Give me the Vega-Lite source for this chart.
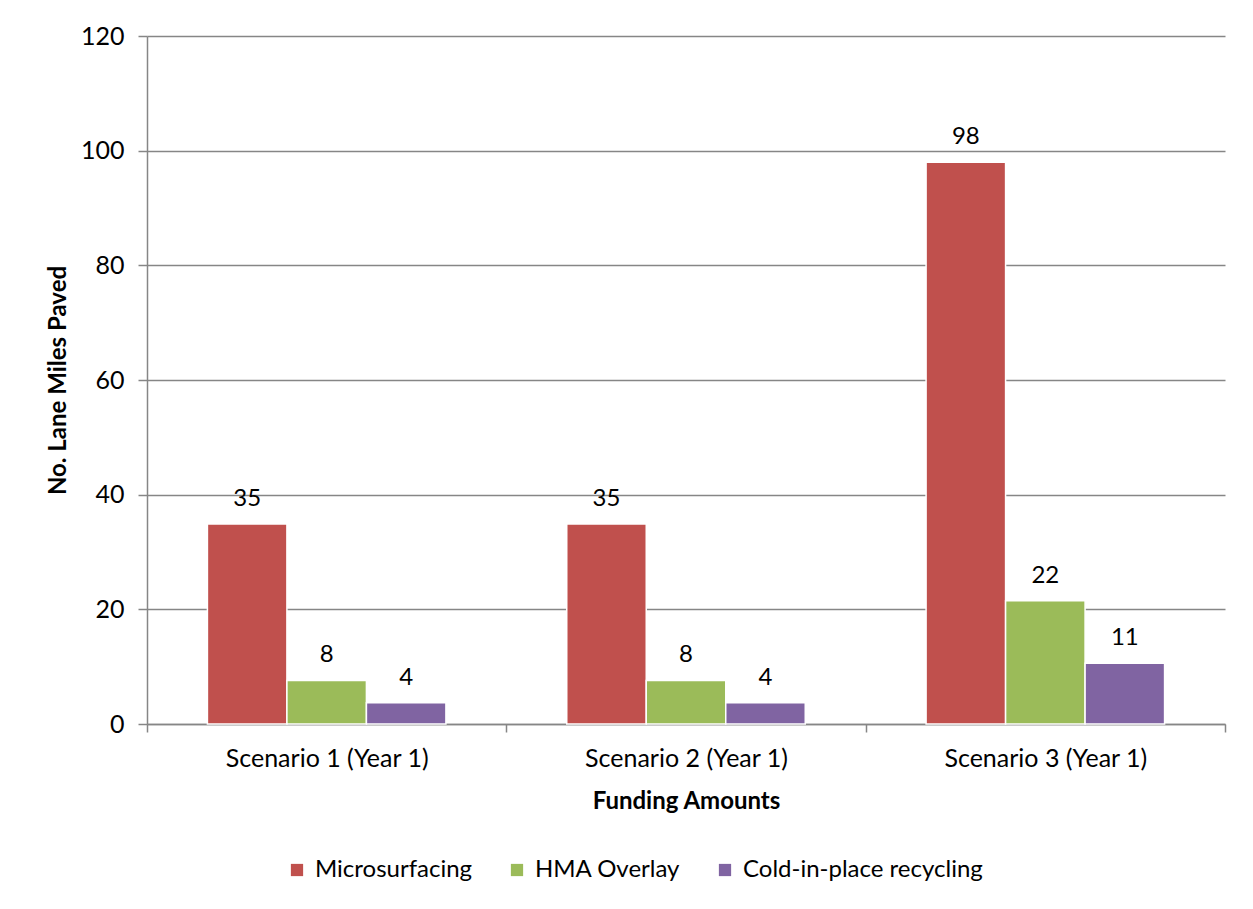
{
  "$schema": "https://vega.github.io/schema/vega-lite/v6.json",
  "autosize": {"type": "none"},
  "width": 1078,
  "height": 688,
  "padding": {"left": 147, "top": 36, "right": 28, "bottom": 185},
  "background": "white",
  "config": {
    "font": "Lato",
    "view": {"stroke": null},
    "axis": {"labelFont": "Lato", "titleFont": "Lato", "labelColor": "#000", "titleColor": "#000"}
  },
  "data": {
    "values": [
      {"scenario": "Scenario 1 (Year 1)", "treatment": "Microsurfacing", "miles": 34.9},
      {"scenario": "Scenario 1 (Year 1)", "treatment": "HMA Overlay", "miles": 7.6},
      {"scenario": "Scenario 1 (Year 1)", "treatment": "Cold-in-place recycling", "miles": 3.7},
      {"scenario": "Scenario 2 (Year 1)", "treatment": "Microsurfacing", "miles": 34.9},
      {"scenario": "Scenario 2 (Year 1)", "treatment": "HMA Overlay", "miles": 7.6},
      {"scenario": "Scenario 2 (Year 1)", "treatment": "Cold-in-place recycling", "miles": 3.7},
      {"scenario": "Scenario 3 (Year 1)", "treatment": "Microsurfacing", "miles": 98.0},
      {"scenario": "Scenario 3 (Year 1)", "treatment": "HMA Overlay", "miles": 21.5},
      {"scenario": "Scenario 3 (Year 1)", "treatment": "Cold-in-place recycling", "miles": 10.6}
    ]
  },
  "encoding": {
    "x": {
      "field": "scenario", "type": "nominal",
      "scale": {"paddingInner": 0, "paddingOuter": 0},
      "axis": {
        "title": "Funding Amounts", "titleFontSize": 24, "titleFontWeight": "bold", "titlePadding": 18,
        "labelAngle": 0, "labelFontSize": 25, "labelPadding": 14, "labelLimit": 400,
        "domainColor": "#868686", "domainWidth": 1.5,
        "tickColor": "#868686", "tickWidth": 1.5, "tickSize": 8, "tickBand": "extent"
      }
    },
    "xOffset": {
      "field": "treatment", "type": "nominal",
      "sort": ["Microsurfacing", "HMA Overlay", "Cold-in-place recycling"],
      "scale": {"paddingOuter": 0.76, "paddingInner": 0.0}
    },
    "y": {
      "field": "miles", "type": "quantitative",
      "scale": {"domain": [0, 120]},
      "axis": {
        "title": "No. Lane Miles Paved", "titleFontSize": 24, "titleFontWeight": "bold", "titlePadding": 10,
        "values": [0, 20, 40, 60, 80, 100, 120],
        "labelFontSize": 25, "labelPadding": 14,
        "grid": true, "gridColor": "#868686", "gridWidth": 1.5,
        "domainColor": "#868686", "domainWidth": 1.5,
        "tickColor": "#868686", "tickWidth": 1.5, "tickSize": 9
      }
    }
  },
  "layer": [
    {
      "mark": {"type": "bar", "stroke": "white", "strokeWidth": 1.5},
      "encoding": {
        "color": {
          "field": "treatment", "type": "nominal",
          "sort": ["Microsurfacing", "HMA Overlay", "Cold-in-place recycling"],
          "scale": {"domain": ["Microsurfacing", "HMA Overlay", "Cold-in-place recycling"], "range": ["#C0504D", "#9BBB59", "#8064A2"]},
          "legend": {
            "title": null, "orient": "none", "direction": "horizontal",
            "legendX": 138, "legendY": 822,
            "symbolType": "square", "symbolSize": 150, "symbolStrokeWidth": 0,
            "labelFontSize": 24, "labelFont": "Lato", "labelColor": "#000", "labelLimit": 400,
            "columnPadding": 32, "labelOffset": 6
          }
        }
      }
    },
    {
      "mark": {"type": "text", "baseline": "bottom", "dy": -13, "fontSize": 24, "color": "#000"},
      "encoding": {
        "text": {"field": "miles", "type": "quantitative", "format": ".0f"}
      }
    }
  ]
}
